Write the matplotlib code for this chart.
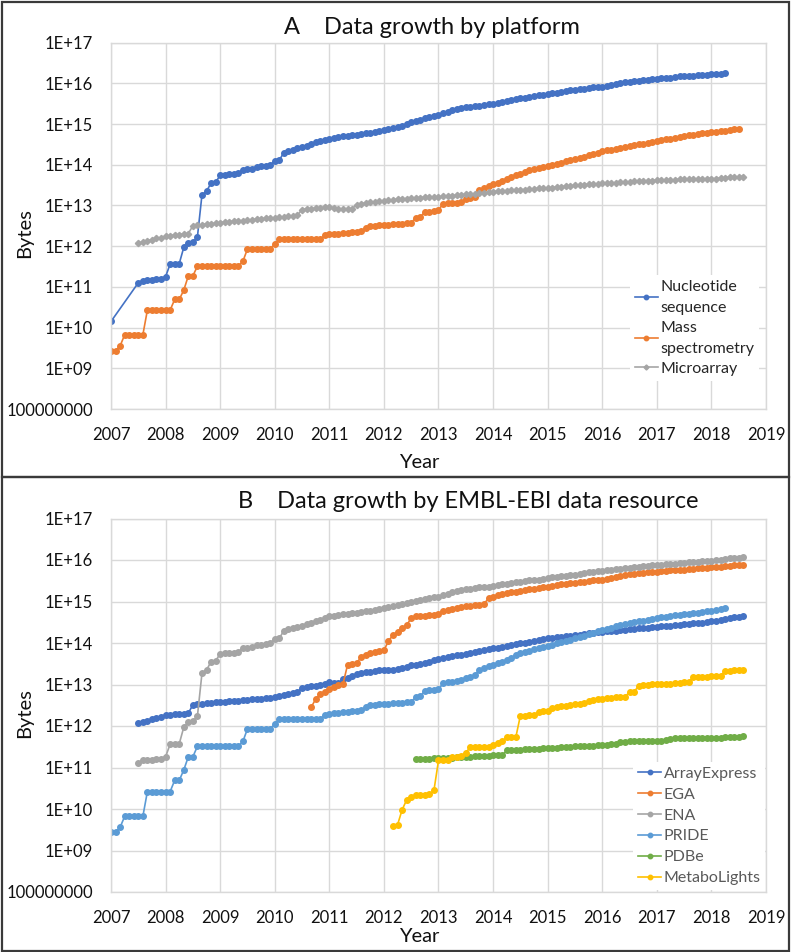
import numpy as np
import matplotlib.pyplot as plt
from matplotlib.patches import Rectangle
from matplotlib.ticker import FixedLocator, FuncFormatter, NullLocator

plt.rcParams['font.family'] = ['Lato', 'DejaVu Sans']

# All values are log10(bytes), one point per month; month 0 = Jan 2007

# --- Panel A: by platform ---
nuc_first = [0, 10.15]          # (month, log10 bytes) single early point
nuc_start = 6
nuc_log = [11.10, 11.15, 11.17, 11.18, 11.19, 11.20,
           11.25, 11.56, 11.56, 11.57, 11.97, 12.07, 12.10, 12.23, 13.26, 13.35, 13.55, 13.57,
           13.74, 13.76, 13.77, 13.77, 13.79, 13.88, 13.89, 13.90, 13.95, 13.96, 13.98, 14.00,
           14.09, 14.11, 14.30, 14.34, 14.37, 14.40, 14.43, 14.47, 14.50, 14.55, 14.58, 14.61,
           14.64, 14.66, 14.68, 14.70, 14.71, 14.73, 14.74, 14.76, 14.77, 14.79, 14.81, 14.83,
           14.85, 14.88, 14.90, 14.92, 14.95, 15.00, 15.04, 15.08, 15.11, 15.14, 15.17, 15.20,
           15.22, 15.26, 15.30, 15.34, 15.37, 15.39, 15.41, 15.43, 15.44, 15.45, 15.47, 15.48,
           15.49, 15.52, 15.54, 15.56, 15.58, 15.61, 15.63, 15.65, 15.67, 15.69, 15.71, 15.72,
           15.73, 15.75, 15.77, 15.79, 15.81, 15.83, 15.84, 15.86, 15.87, 15.89, 15.90, 15.91,
           15.92, 15.94, 15.96, 15.98, 16.00, 16.02, 16.03, 16.05, 16.06, 16.08, 16.09, 16.10,
           16.11, 16.12, 16.13, 16.14, 16.16, 16.17, 16.18, 16.19, 16.19, 16.20, 16.21, 16.21,
           16.22, 16.23, 16.24, 16.25]

ms_start = 0
ms_log = [9.43, 9.43, 9.55, 9.82, 9.82, 9.82, 9.82, 9.82, 10.43, 10.43, 10.43, 10.43,
          10.43, 10.43, 10.69, 10.69, 10.92, 11.27, 11.27, 11.51, 11.51, 11.51, 11.51, 11.51,
          11.51, 11.51, 11.51, 11.51, 11.51, 11.63, 11.93, 11.93, 11.93, 11.93, 11.93, 11.93,
          12.05, 12.17, 12.17, 12.17, 12.17, 12.17, 12.17, 12.17, 12.17, 12.17, 12.17, 12.27,
          12.30, 12.31, 12.31, 12.32, 12.33, 12.34, 12.35, 12.36, 12.44, 12.49, 12.50, 12.51,
          12.52, 12.53, 12.54, 12.55, 12.55, 12.56, 12.57, 12.70, 12.72, 12.84, 12.85, 12.86,
          12.89, 13.04, 13.05, 13.06, 13.07, 13.08, 13.16, 13.18, 13.20, 13.38, 13.43, 13.47,
          13.52, 13.56, 13.60, 13.66, 13.70, 13.74, 13.78, 13.82, 13.86, 13.89, 13.92, 13.94,
          13.96, 13.99, 14.02, 14.05, 14.08, 14.11, 14.14, 14.17, 14.20, 14.24, 14.27, 14.30,
          14.33, 14.35, 14.37, 14.39, 14.42, 14.44, 14.46, 14.48, 14.50, 14.52, 14.54, 14.56,
          14.58, 14.60, 14.62, 14.64, 14.66, 14.68, 14.70, 14.72, 14.74, 14.75, 14.77, 14.78,
          14.80, 14.81, 14.83, 14.84, 14.85, 14.87, 14.88]

micro_start = 6
micro_log = [12.07, 12.10, 12.13, 12.16, 12.19, 12.21,
             12.24, 12.26, 12.27, 12.28, 12.30, 12.31, 12.50, 12.52, 12.53, 12.54, 12.55, 12.56,
             12.58, 12.59, 12.60, 12.61, 12.62, 12.63, 12.64, 12.65, 12.66, 12.67, 12.68, 12.69,
             12.70, 12.71, 12.72, 12.73, 12.74, 12.76, 12.90, 12.91, 12.92, 12.93, 12.94, 12.95,
             12.96, 12.94, 12.92, 12.91, 12.91, 12.92, 13.02, 13.04, 13.06, 13.08, 13.09, 13.11,
             13.12, 13.13, 13.14, 13.15, 13.16, 13.17, 13.18, 13.19, 13.19, 13.20, 13.20, 13.21,
             13.21, 13.22, 13.23, 13.24, 13.25, 13.26, 13.27, 13.28, 13.29, 13.30, 13.31, 13.32,
             13.34, 13.35, 13.36, 13.36, 13.37, 13.38, 13.39, 13.39, 13.40, 13.41, 13.42, 13.42,
             13.43, 13.44, 13.45, 13.46, 13.47, 13.48, 13.49, 13.50, 13.51, 13.52, 13.52, 13.53,
             13.54, 13.55, 13.55, 13.56, 13.57, 13.57, 13.58, 13.59, 13.59, 13.60, 13.61, 13.61,
             13.62, 13.62, 13.63, 13.63, 13.63, 13.64, 13.64, 13.64, 13.65, 13.65, 13.65, 13.66,
             13.66, 13.66, 13.67, 13.68, 13.69, 13.70, 13.70, 13.71]

# --- Panel B: by EMBL-EBI data resource ---
ae_start = 6
ae_log = [12.07, 12.10, 12.13, 12.16, 12.19, 12.22,
          12.26, 12.27, 12.28, 12.29, 12.30, 12.31, 12.51, 12.53, 12.54, 12.55, 12.56, 12.57,
          12.58, 12.59, 12.60, 12.61, 12.61, 12.62, 12.63, 12.64, 12.65, 12.66, 12.67, 12.68,
          12.70, 12.72, 12.74, 12.77, 12.79, 12.82, 12.92, 12.94, 12.96, 12.97, 12.99, 13.01,
          13.05, 13.04, 13.03, 13.13, 13.16, 13.20, 13.25, 13.28, 13.30, 13.31, 13.32, 13.34,
          13.35, 13.36, 13.36, 13.37, 13.39, 13.43, 13.46, 13.48, 13.50, 13.52, 13.55, 13.58,
          13.62, 13.64, 13.66, 13.68, 13.70, 13.72, 13.74, 13.76, 13.78, 13.81, 13.84, 13.86,
          13.87, 13.89, 13.91, 13.93, 13.95, 13.97, 13.99, 14.01, 14.03, 14.05, 14.07, 14.09,
          14.11, 14.12, 14.14, 14.15, 14.16, 14.18, 14.19, 14.20, 14.22, 14.23, 14.24, 14.26,
          14.27, 14.28, 14.29, 14.30, 14.31, 14.32, 14.33, 14.34, 14.35, 14.36, 14.37, 14.38,
          14.39, 14.40, 14.41, 14.42, 14.43, 14.44, 14.45, 14.46, 14.47, 14.48, 14.49, 14.50,
          14.52, 14.54, 14.56, 14.58, 14.60, 14.62, 14.63, 14.64]

ega_start = 44
ega_log = [12.45, 12.65, 12.77, 12.83,
           12.89, 12.95, 12.99, 13.01, 13.47, 13.49, 13.51, 13.67, 13.72, 13.75, 13.78, 13.80,
           13.82, 14.05, 14.19, 14.27, 14.35, 14.43, 14.60, 14.64, 14.65, 14.66, 14.67, 14.68,
           14.70, 14.76, 14.80, 14.82, 14.84, 14.86, 14.88, 14.90, 14.91, 14.92, 14.94, 15.08,
           15.12, 15.15, 15.18, 15.20, 15.22, 15.24, 15.26, 15.28, 15.30, 15.31, 15.32, 15.34,
           15.36, 15.38, 15.39, 15.41, 15.42, 15.44, 15.45, 15.46, 15.48, 15.49, 15.51, 15.52,
           15.53, 15.55, 15.57, 15.59, 15.62, 15.65, 15.66, 15.67, 15.68, 15.69, 15.70, 15.71,
           15.72, 15.73, 15.74, 15.75, 15.76, 15.77, 15.77, 15.78, 15.79, 15.80, 15.81, 15.81,
           15.82, 15.83, 15.84, 15.85, 15.86, 15.87, 15.87, 15.88]

ena_start = 6
ena_log = [11.10, 11.17, 11.18, 11.19, 11.20, 11.21,
           11.26, 11.56, 11.56, 11.57, 11.97, 12.09, 12.11, 12.24, 13.27, 13.35, 13.55, 13.57,
           13.74, 13.76, 13.77, 13.77, 13.79, 13.88, 13.89, 13.90, 13.95, 13.96, 13.98, 14.00,
           14.09, 14.11, 14.30, 14.33, 14.36, 14.39, 14.42, 14.45, 14.48, 14.52, 14.56, 14.60,
           14.64, 14.66, 14.68, 14.69, 14.70, 14.72, 14.73, 14.75, 14.76, 14.78, 14.80, 14.82,
           14.84, 14.87, 14.89, 14.92, 14.94, 14.97, 15.00, 15.02, 15.04, 15.06, 15.08, 15.10,
           15.12, 15.15, 15.18, 15.22, 15.25, 15.27, 15.29, 15.31, 15.32, 15.34, 15.35, 15.36,
           15.37, 15.39, 15.41, 15.42, 15.44, 15.46, 15.48, 15.49, 15.51, 15.52, 15.53, 15.55,
           15.56, 15.58, 15.59, 15.61, 15.62, 15.64, 15.65, 15.67, 15.68, 15.70, 15.71, 15.73,
           15.74, 15.75, 15.76, 15.78, 15.79, 15.80, 15.81, 15.82, 15.83, 15.85, 15.86, 15.87,
           15.88, 15.89, 15.90, 15.91, 15.91, 15.92, 15.93, 15.94, 15.95, 15.96, 15.97, 15.97,
           15.98, 15.99, 16.01, 16.02, 16.04, 16.05, 16.06, 16.08]

pride_start = 0
pride_log = [9.44, 9.44, 9.56, 9.82, 9.82, 9.82, 9.82, 9.82, 10.42, 10.42, 10.42, 10.42,
             10.42, 10.42, 10.69, 10.69, 10.94, 11.26, 11.26, 11.51, 11.51, 11.51, 11.51, 11.51,
             11.51, 11.51, 11.51, 11.51, 11.51, 11.63, 11.93, 11.93, 11.93, 11.93, 11.93, 11.93,
             12.05, 12.17, 12.17, 12.17, 12.17, 12.17, 12.17, 12.17, 12.17, 12.17, 12.17, 12.27,
             12.30, 12.31, 12.32, 12.33, 12.34, 12.35, 12.36, 12.38, 12.45, 12.50, 12.51, 12.52,
             12.53, 12.54, 12.55, 12.56, 12.56, 12.57, 12.58, 12.70, 12.72, 12.85, 12.86, 12.87,
             12.88, 13.03, 13.05, 13.07, 13.09, 13.10, 13.15, 13.19, 13.22, 13.35, 13.40, 13.44,
             13.47, 13.51, 13.55, 13.59, 13.64, 13.70, 13.75, 13.78, 13.81, 13.85, 13.88, 13.91,
             13.93, 13.96, 13.99, 14.02, 14.05, 14.08, 14.11, 14.14, 14.18, 14.21, 14.24, 14.28,
             14.31, 14.34, 14.37, 14.40, 14.43, 14.46, 14.48, 14.50, 14.52, 14.54, 14.56, 14.58,
             14.60, 14.62, 14.63, 14.65, 14.67, 14.68, 14.70, 14.71, 14.72, 14.73, 14.74, 14.76,
             14.77, 14.79, 14.81, 14.84]

pdbe_start = 67
pdbe_log = [11.20, 11.20, 11.21, 11.21, 11.22,
            11.23, 11.23, 11.24, 11.24, 11.25, 11.25, 11.26, 11.26, 11.27, 11.27, 11.28, 11.28,
            11.29, 11.29, 11.29, 11.41, 11.42, 11.43, 11.43, 11.44, 11.44, 11.45, 11.45, 11.46,
            11.47, 11.47, 11.48, 11.49, 11.49, 11.50, 11.51, 11.51, 11.52, 11.53, 11.53, 11.54,
            11.55, 11.55, 11.56, 11.57, 11.62, 11.62, 11.63, 11.63, 11.63, 11.63, 11.64, 11.64,
            11.64, 11.65, 11.66, 11.69, 11.70, 11.70, 11.70, 11.71, 11.71, 11.71, 11.71, 11.71,
            11.71, 11.72, 11.72, 11.73, 11.73, 11.74, 11.74, 11.75]

metab_start = 62
metab_log = [9.60, 9.62, 9.98, 10.22, 10.30, 10.33, 10.34, 10.34, 10.35, 10.45,
             11.17, 11.18, 11.18, 11.26, 11.26, 11.27, 11.36, 11.49, 11.49, 11.49, 11.50, 11.50,
             11.55, 11.60, 11.63, 11.73, 11.73, 11.73, 12.25, 12.25, 12.26, 12.26, 12.33, 12.35,
             12.36, 12.44, 12.46, 12.48, 12.49, 12.50, 12.52, 12.53, 12.55, 12.60, 12.63, 12.65,
             12.66, 12.67, 12.68, 12.69, 12.69, 12.70, 12.82, 12.83, 12.96, 12.98, 13.00, 13.01,
             13.01, 13.01, 13.02, 13.02, 13.03, 13.03, 13.05, 13.06, 13.18, 13.19, 13.19, 13.19,
             13.20, 13.20, 13.21, 13.32, 13.33, 13.34, 13.34, 13.35]

ytick_vals = [1e8, 1e9, 1e10, 1e11, 1e12, 1e13, 1e14, 1e15, 1e16, 1e17]
xtick_years = list(range(2007, 2020))


def series(start, logs):
    x = 2007 + (start + np.arange(len(logs))) / 12.0
    return x, 10 ** np.array(logs)


def fmt_y(v, pos):
    if v < 5e8:
        return '100000000'
    return '1E+%02d' % int(round(np.log10(v)))


def style_axes(ax):
    ax.set_yscale('log')
    ax.set_xlim(2007, 2019)
    ax.set_ylim(1e8, 1e17)
    ax.yaxis.set_major_locator(FixedLocator(ytick_vals))
    ax.yaxis.set_minor_locator(NullLocator())
    ax.yaxis.set_major_formatter(FuncFormatter(fmt_y))
    ax.set_xticks(xtick_years)
    ax.set_xticklabels([str(y) for y in xtick_years])
    ax.grid(True, color='#D9D9D9', linewidth=1.0)
    ax.set_axisbelow(True)
    for s in ax.spines.values():
        s.set_color('#D9D9D9')
        s.set_linewidth(1.0)
    ax.tick_params(axis='both', length=0, labelsize=12, colors='#111111')
    ax.tick_params(axis='y', pad=13)
    ax.tick_params(axis='x', pad=13)


W, H = 793, 952
fig = plt.figure(figsize=(W / 100, H / 100), dpi=100)

axA = fig.add_axes([111 / W, 1 - 409 / H, 655 / W, 366.4 / H])
axB = fig.add_axes([111 / W, 1 - 892 / H, 655 / W, 373.5 / H])

lw, ms = 1.2, 4

# Panel A
x, y = series(nuc_start, nuc_log)
x = np.concatenate([[2007 + nuc_first[0] / 12.0], x])
y = np.concatenate([[10 ** nuc_first[1]], y])
axA.plot(x, y, color='#4472C4', lw=lw, marker='o', ms=ms, label='Nucleotide\nsequence')
x, y = series(ms_start, ms_log)
axA.plot(x, y, color='#ED7D31', lw=lw, marker='o', ms=ms, label='Mass\nspectrometry')
x, y = series(micro_start, micro_log)
axA.plot(x, y, color='#A5A5A5', lw=lw, marker='D', ms=3.2, label='Microarray')
style_axes(axA)

legA = axA.legend(loc='upper left', bbox_to_anchor=(0.78, 0.388), fontsize=11.5,
                  frameon=True, facecolor='white', edgecolor='none', framealpha=1,
                  handlelength=1.45, handletextpad=0.15, labelspacing=0.37,
                  borderpad=0.3, markerscale=0.8)
for t in legA.get_texts():
    t.set_color('#262626')
    t.set_linespacing(1.65)

# Panel B
for start, logs, col, name in [(ae_start, ae_log, '#4472C4', 'ArrayExpress'),
                               (ega_start, ega_log, '#ED7D31', 'EGA'),
                               (ena_start, ena_log, '#A5A5A5', 'ENA'),
                               (pride_start, pride_log, '#5B9BD5', 'PRIDE'),
                               (pdbe_start, pdbe_log, '#70AD47', 'PDBe'),
                               (metab_start, metab_log, '#FFC000', 'MetaboLights')]:
    x, y = series(start, logs)
    axB.plot(x, y, color=col, lw=lw, marker='o', ms=ms, label=name)
style_axes(axB)

legB = axB.legend(loc='upper left', bbox_to_anchor=(0.785, 0.37), fontsize=11.5,
                  frameon=True, facecolor='white', edgecolor='none', framealpha=1,
                  handlelength=1.45, handletextpad=0.15, labelspacing=0.42,
                  borderpad=0.3, markerscale=0.8)
for t in legB.get_texts():
    t.set_color('#595959')

# titles and axis labels
fig.text(432 / W, 1 - 27 / H, 'A    Data growth by platform', ha='center', va='center',
         fontsize=17, color='#111111')
fig.text(468 / W, 1 - 501 / H, 'B    Data growth by EMBL-EBI data resource', ha='center',
         va='center', fontsize=17, color='#111111')
fig.text(419 / W, 1 - 462 / H, 'Year', ha='center', va='center', fontsize=14.5, color='#111111')
fig.text(419 / W, 1 - 937 / H, 'Year', ha='center', va='center', fontsize=14.5, color='#111111')
fig.text(25 / W, 1 - 233 / H, 'Bytes', ha='center', va='center', rotation=90,
         fontsize=14.5, color='#111111')
fig.text(25 / W, 1 - 713 / H, 'Bytes', ha='center', va='center', rotation=90,
         fontsize=14.5, color='#111111')

# panel borders
for top, bot in [(1.5, 477), (477, 951)]:
    fig.add_artist(Rectangle((1.5 / W, 1 - bot / H), (789 - 1.5) / W, (bot - top) / H,
                             transform=fig.transFigure, fill=False,
                             edgecolor='#3A3A3A', linewidth=1.6))

fig.savefig('out.png', dpi=100)
